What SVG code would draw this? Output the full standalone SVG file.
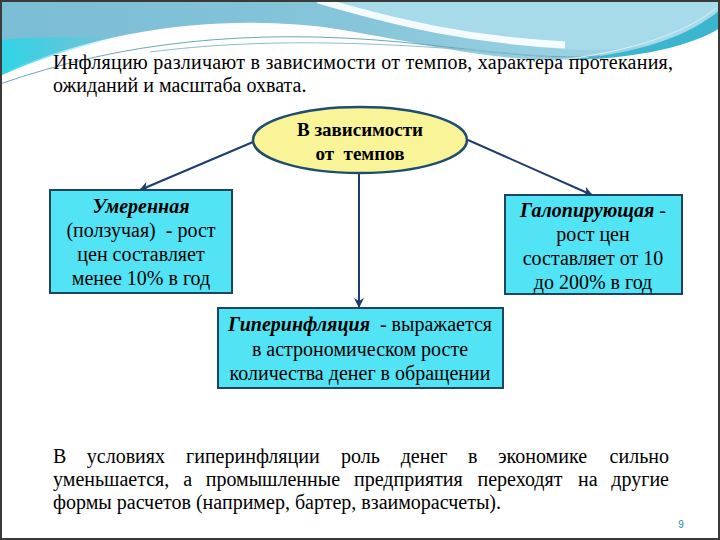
<svg xmlns="http://www.w3.org/2000/svg" width="720" height="540" viewBox="0 0 720 540">
<defs>
  <linearGradient id="hdr" x1="0" y1="0" x2="1" y2="0">
    <stop offset="0" stop-color="#7bbdd4"/>
    <stop offset="0.5" stop-color="#86c5da"/>
    <stop offset="1" stop-color="#a6dae9"/>
  </linearGradient>
  <linearGradient id="cy" x1="0" y1="0" x2="1" y2="0">
    <stop offset="0" stop-color="#30d4e6"/>
    <stop offset="1" stop-color="#30d4e6" stop-opacity="0"/>
  </linearGradient>
  <marker id="ah" viewBox="0 0 10 10" refX="9" refY="5" markerWidth="10" markerHeight="10" orient="auto" markerUnits="userSpaceOnUse">
    <path d="M0,0 L10,5 L0,10 L3,5 Z" fill="#1f3c70"/>
  </marker>
  <style>
    text { font-family: 'Liberation Serif', serif; font-size: 20px; fill: #000; }
    .c { text-anchor: middle; }
    .bi { font-weight: bold; font-style: italic; }
    .box { fill: #52e4f4; stroke: #1b4563; stroke-width: 2; }
    .ell { fill: #f8f497; stroke: #1e4d6e; stroke-width: 2.5; }
    .con { stroke: #1f3c70; stroke-width: 2; fill: none; marker-end: url(#ah); }
  </style>
</defs>

<rect x="0" y="0" width="720" height="540" fill="#ffffff"/>

<g id="header">
  <path d="M0,0 H720 V18 C690,42 640,58 570,60 C490,62 420,42 330,28 C240,16 120,22 0,74 Z" fill="url(#hdr)"/>
  <path d="M330,0 H720 V18 C690,38 640,50 590,50 C510,50 420,25 330,0 Z" fill="#a7dbe9"/>
  <path d="M318,0 C400,24 470,40 565,45" stroke="#ffffff" stroke-width="7" fill="none" opacity="0.9"/>
  <path d="M720,10 C690,35 640,55 560,60 C640,60 695,44 720,28 Z" fill="#3bb6ce"/>
  <path d="M0,40 V76 C40,58 80,46 120,38 C80,36 40,36 0,40 Z" fill="url(#cy)"/>
  <path d="M0,84 C120,42 250,28 400,42 C480,50 540,60 600,56" stroke="#6aa8b8" stroke-width="1" fill="none"/>
  <path d="M150,52 C260,38 380,40 560,58" stroke="#8fbcc8" stroke-width="1" fill="none"/>
  <path d="M560,60 C640,50 690,30 716,8" stroke="#d8f0f6" stroke-width="1" fill="none"/>
</g>

<g id="title">
  <text x="53" y="69" textLength="620" lengthAdjust="spacing">Инфляцию различают в зависимости от темпов, характера протекания,</text>
  <text x="53" y="92">ожиданий и масштаба охвата.</text>
</g>

<g id="connectors">
  <line class="con" x1="253" y1="142" x2="140" y2="190"/>
  <line class="con" x1="468" y1="140" x2="592" y2="195"/>
  <line class="con" x1="359" y1="172" x2="359" y2="307"/>
</g>

<g id="node-root">
  <ellipse class="ell" cx="360" cy="140" rx="107" ry="33"/>
  <text class="c" x="360" y="136" style="font-size:19px;font-weight:bold">В зависимости</text>
  <text class="c" x="360" y="160" style="font-size:19px;font-weight:bold;white-space:pre">от  темпов</text>
</g>

<g id="node-moderate">
  <rect class="box" x="50" y="190" width="182" height="103"/>
  <text class="c bi" x="141" y="213">Умеренная</text>
  <text class="c" x="141" y="237" style="white-space:pre">(ползучая)  - рост</text>
  <text class="c" x="141" y="261">цен составляет</text>
  <text class="c" x="141" y="285">менее 10% в год</text>
</g>

<g id="node-galloping">
  <rect class="box" x="505" y="195" width="177" height="99"/>
  <text class="c" x="593" y="217"><tspan class="bi">Галопирующая</tspan> -</text>
  <text class="c" x="593" y="241">рост цен</text>
  <text class="c" x="593" y="265">составляет от 10</text>
  <text class="c" x="593" y="289">до 200% в год</text>
</g>

<g id="node-hyper">
  <rect class="box" x="218" y="308" width="285" height="80"/>
  <text class="c" x="360" y="331" style="white-space:pre"><tspan class="bi">Гиперинфляция</tspan>  - выражается</text>
  <text class="c" x="360" y="356">в астрономическом росте</text>
  <text class="c" x="360" y="380">количества денег в обращении</text>
</g>

<g id="paragraph">
  <text y="463"><tspan x="53">В</tspan><tspan x="86.8">условиях</tspan><tspan x="186">гиперинфляции</tspan><tspan x="341">роль</tspan><tspan x="400.7">денег</tspan><tspan x="468">в</tspan><tspan x="498">экономике</tspan></text>
  <text x="669" y="463" text-anchor="end">сильно</text>
  <text y="486"><tspan x="53">уменьшается,</tspan><tspan x="183.3">а</tspan><tspan x="205.7">промышленные</tspan><tspan x="354">предприятия</tspan><tspan x="477.5">переходят</tspan><tspan x="578">на</tspan></text>
  <text x="669" y="486" text-anchor="end">другие</text>
  <text x="53" y="509">формы расчетов (например, бартер, взаиморасчеты).</text>
</g>

<text x="681" y="528" style="font-family:'Liberation Sans',sans-serif;font-size:10px;fill:#2a8aa8" text-anchor="middle">9</text>

<rect x="1" y="1" width="718" height="538" fill="none" stroke="#3a3a3a" stroke-width="2"/>
</svg>
